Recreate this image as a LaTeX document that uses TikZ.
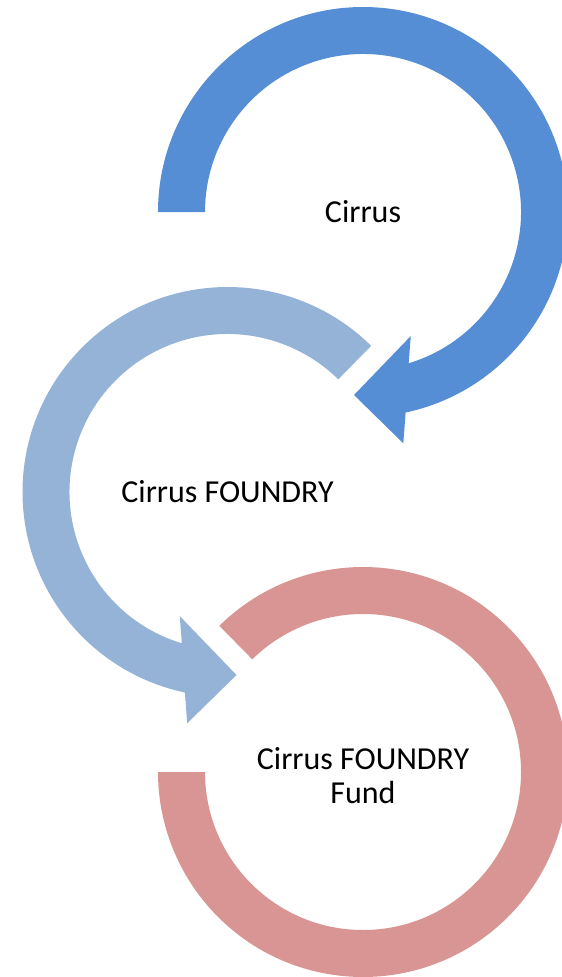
\documentclass[tikz,border=0pt]{standalone}
\usepackage{fontspec}
\setmainfont{Carlito}
\usetikzlibrary{calc}
\definecolor{arrowA}{HTML}{558ED5}
\definecolor{arrowB}{HTML}{95B3D7}
\definecolor{arrowC}{HTML}{D99594}
\begin{document}
\begin{tikzpicture}[x=1pt,y=1pt,
  lbl/.style={font=\fontsize{32}{34.5}\selectfont, align=center, inner sep=0pt, text=black}]
\useasboundingbox (0,0) rectangle (562,-977);
\coordinate (c1) at (363,-212);
\coordinate (c2) at (227.5,-492);
\coordinate (c3) at (363,-772);
\def\Ro{205pt}\def\Ri{158pt}
% third ring (no arrowhead)
\fill[arrowC] ($(c3)+(134.5:\Ro)$) arc[start angle=134.5,end angle=-180,radius=\Ro]
  -- ($(c3)+(-180:\Ri)$) arc[start angle=-180,end angle=134.5,radius=\Ri] -- cycle;
% second arrow
\fill[arrowB] ($(c2)+(45.5:\Ro)$) arc[start angle=45.5,end angle=258,radius=\Ro]
  -- ($(c2)+(-40.3,-231.3)$) -- ($(c2)+(9,-183)$) -- ($(c2)+(-47.8,-124)$)
  -- ($(c2)+(253.2:\Ri)$) arc[start angle=253.2,end angle=45.5,radius=\Ri] -- cycle;
% first arrow
\fill[arrowA] ($(c1)+(180:\Ro)$) arc[start angle=180,end angle=-78,radius=\Ro]
  -- ($(c1)+(40.3,-231.3)$) -- ($(c1)+(-9,-183)$) -- ($(c1)+(47.8,-124)$)
  -- ($(c1)+(-73.2:\Ri)$) arc[start angle=-73.2,end angle=180,radius=\Ri] -- cycle;
\node[lbl] (t1) at (c1) {Cirrus};
\node[lbl] (t2) at (c2) {Cirrus FOUNDRY};
\node[lbl] (t3) at ($(c3)+(0,-3.5)$) {Cirrus FOUNDRY\\Fund};
\end{tikzpicture}
\end{document}
